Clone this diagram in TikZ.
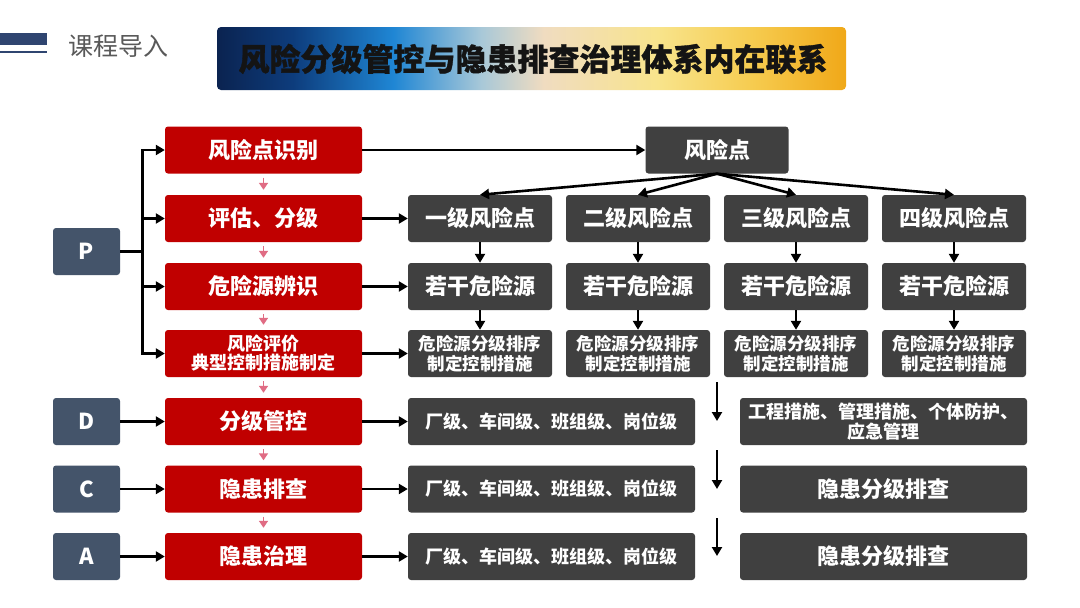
\documentclass[tikz,border=0pt]{standalone}
\usepackage{fontspec}
\setmainfont{Noto Sans CJK SC}
\newfontfamily\heavyfont{Noto Sans CJK SC}[FakeBold=1.2]
\usetikzlibrary{arrows.meta}
\definecolor{redbox}{HTML}{C00000}
\definecolor{darkbox}{HTML}{404040}
\definecolor{pdca}{HTML}{44546A}
\definecolor{pinkar}{HTML}{E06C84}
\definecolor{navybar}{HTML}{2F4570}
\definecolor{graytxt}{HTML}{595959}
\definecolor{t0}{HTML}{0B2350}
\definecolor{t1}{HTML}{0D3C7C}
\definecolor{t2}{HTML}{1F86D4}
\definecolor{t3}{HTML}{A8C8D8}
\definecolor{t4}{HTML}{F0DCC0}
\definecolor{t5}{HTML}{F8E48C}
\definecolor{t6}{HTML}{F6CC50}
\definecolor{t7}{HTML}{F0A818}
\pgfdeclarehorizontalshading{titleshade}{100bp}{color(0bp)=(t0); color(25bp)=(t0); color(31bp)=(t1); color(39bp)=(t2); color(46bp)=(t3); color(51bp)=(t4); color(60bp)=(t5); color(67.5bp)=(t6); color(75bp)=(t7); color(100bp)=(t7)}
\newcommand{\fs}[1]{\fontsize{#1}{#1}\selectfont}
\tikzset{
  box/.style={rounded corners=3pt, text=white, font=\bfseries, align=center, inner sep=0pt, minimum height=47pt},
  redb/.style={box, fill=redbox, minimum width=197pt},
  gridb/.style={box, fill=darkbox, minimum width=144pt},
  wideb/.style={box, fill=darkbox, minimum width=287pt},
  letb/.style={box, fill=pdca, minimum width=67pt},
  arr/.style={line width=2.6pt, -{Triangle[length=9pt,width=10pt]}},
  pinkarr/.style={line width=1.6pt, draw=pinkar, -{Triangle[length=7pt,width=9pt]}},
}
\begin{document}
\begin{tikzpicture}[x=1pt,y=-1pt]
\useasboundingbox (0,0) rectangle (1080,608);
\fill[white] (0,0) rectangle (1080,608);
% header
\fill[navybar] (0,33) rectangle (47,45);
\fill[navybar] (0,50.5) rectangle (47,52.5);
\node[anchor=west, text=graytxt, font=\fs{25}, inner sep=0pt] (hdr) at (68,46) {课程导入};
\shade[shading=titleshade, rounded corners=4pt] (217,27) rectangle (846,90);
\node[font=\fs{31}\heavyfont\bfseries, text=black!92, inner sep=0pt] (title) at (533,59) {风险分级管控与隐患排查治理体系内在联系};
% red column
\node[redb, font=\fs{22}\bfseries] (r1) at (263.5,150) {风险点识别};
\node[redb, font=\fs{22}\bfseries] (r2) at (263.5,218.5) {评估、分级};
\node[redb, font=\fs{22}\bfseries] (r3) at (263.5,286.5) {危险源辨识};
\node[redb, font=\fs{18}\bfseries, align=center] (r4) at (263.5,353.5) {风险评价\\[1pt]典型控制措施制定};
\node[redb, font=\fs{22}\bfseries] (r5) at (263.5,421.5) {分级管控};
\node[redb, font=\fs{22}\bfseries] (r6) at (263.5,489) {隐患排查};
\node[redb, font=\fs{22}\bfseries] (r7) at (263.5,556.5) {隐患治理};
% PDCA
\node[letb, font=\fs{22}\bfseries] (P) at (86.5,251.5) {P};
\node[letb, font=\fs{22}\bfseries] (D) at (86.5,421.5) {D};
\node[letb, font=\fs{22}\bfseries] (C) at (86.5,489) {C};
\node[letb, font=\fs{22}\bfseries] (A) at (86.5,556.5) {A};
% risk point
\node[box, fill=darkbox, minimum width=143pt, font=\fs{22}\bfseries] (rp) at (717,150) {风险点};
% grid
\foreach \x/\n/\lab in {480/1/一级风险点, 638/2/二级风险点, 796/3/三级风险点, 954/4/四级风险点}{
  \node[gridb, font=\fs{22}\bfseries] (g\n) at (\x,218.5) {\lab};
  \node[gridb, font=\fs{22}\bfseries] (h\n) at (\x,286.5) {若干危险源};
  \node[gridb, font=\fs{17.5}\bfseries] (k\n) at (\x,353.5) {危险源分级排序\\[2pt]制定控制措施};
  \draw[arr] (rp.south) -- (g\n.north);
  \draw[arr] (g\n.south) -- (h\n.north);
  \draw[arr] (h\n.south) -- (k\n.north);
}
% lower rows
\node[wideb, font=\fs{18}\bfseries] (l5) at (551.5,421.5) {厂级、车间级、班组级、岗位级};
\node[wideb, font=\fs{18}\bfseries] (l6) at (551.5,489) {厂级、车间级、班组级、岗位级};
\node[wideb, font=\fs{18}\bfseries] (l7) at (551.5,556.5) {厂级、车间级、班组级、岗位级};
\node[wideb, font=\fs{18}\bfseries] (m5) at (883.5,421.5) {工程措施、管理措施、个体防护、\\[2pt]应急管理};
\node[wideb, font=\fs{22}\bfseries] (m6) at (883.5,489) {隐患分级排查};
\node[wideb, font=\fs{22}\bfseries] (m7) at (883.5,556.5) {隐患分级排查};
% P bus
\draw[arr] (P.east) -- ++(22,0) |- (r1.west);
\draw[arr] (P.east) -- ++(22,0) |- (r2.west);
\draw[arr] (P.east) -- ++(22,0) |- (r3.west);
\draw[arr] (P.east) -- ++(22,0) |- (r4.west);
% horizontal arrows
\draw[arr] (r1.east) -- (rp.west);
\draw[arr] (r2.east) -- (g1.west);
\draw[arr] (r3.east) -- (h1.west);
\draw[arr] (r4.east) -- (k1.west);
\draw[arr] (D.east) -- (r5.west);
\draw[arr] (C.east) -- (r6.west);
\draw[arr] (A.east) -- (r7.west);
\draw[arr] (r5.east) -- (l5.west);
\draw[arr] (r6.east) -- (l6.west);
\draw[arr] (r7.east) -- (l7.west);
% pink arrows
\foreach \a/\b in {r1/r2, r2/r3, r3/r4, r4/r5, r5/r6, r6/r7}{
  \draw[pinkarr] ([yshift=-4pt]\a.south) -- ([yshift=5pt]\b.north);
}
% free down arrows
\coordinate (d1s) at (717,382); \coordinate (d1e) at (717,421);
\coordinate (d2s) at (717,450); \coordinate (d2e) at (717,489);
\coordinate (d3s) at (717,518); \coordinate (d3e) at (717,556);
\draw[arr, line width=2.2pt] (d1s) -- (d1e);
\draw[arr, line width=2.2pt] (d2s) -- (d2e);
\draw[arr, line width=2.2pt] (d3s) -- (d3e);
\end{tikzpicture}
\end{document}
